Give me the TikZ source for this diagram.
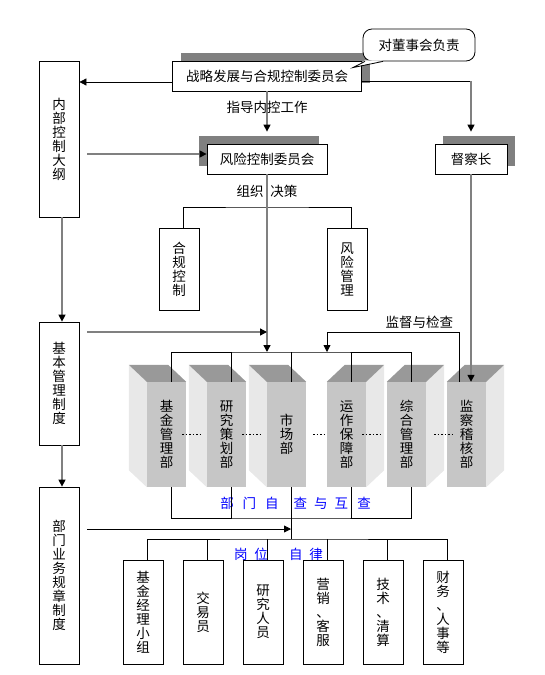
\documentclass[tikz,border=0pt]{standalone}
\usepackage{fontspec}
\setmainfont{Noto Sans CJK SC}
\usetikzlibrary{arrows.meta, calc, shadows}

\begin{document}
\begin{tikzpicture}[x=1pt, y=-1pt,
    every node/.style={font=\fontsize{13.5}{14}\selectfont},
    bx/.style={draw, line width=0.8pt, fill=white, inner sep=0pt, minimum height=30pt},
    vb/.style={draw, line width=0.8pt, fill=white, inner sep=0pt, minimum width=40pt, align=center},
    sh/.style={drop shadow={shadow xshift=#1, shadow yshift=8pt, fill=gray, opacity=1}},
    fr/.style={fill=gray!45, inner sep=0pt, minimum width=39pt, minimum height=105pt, align=center},
    topf/.style={fill=gray!80},
    sidef/.style={fill=gray!18},
    ln/.style={line width=0.8pt},
    a/.style={-{Triangle[length=7pt, width=7pt, color=black]}, line width=1.4pt, draw=gray},
    ab/.style={-{Triangle[length=7pt, width=7pt]}, line width=0.8pt},
    al/.style={inner sep=1pt},
    bl/.style={text=blue, inner sep=0pt},
    dt/.style={line width=1.5pt, dash pattern=on 1.5pt off 2pt}
]
\def\lface#1{\fill[sidef] (#1.north west) -- ++(-18,-17) -- ($(#1.south west)+(-18,-17)$) -- (#1.south west) -- cycle;
  \fill[topf] (#1.north west) -- ++(-18,-17) -- ($(#1.north east)+(-18,-17)$) -- (#1.north east) -- cycle;}
\def\rface#1{\fill[sidef] (#1.north east) -- ++(18,-17) -- ($(#1.south east)+(18,-17)$) -- (#1.south east) -- cycle;
  \fill[topf] (#1.north west) -- ++(18,-17) -- ($(#1.north east)+(18,-17)$) -- (#1.north east) -- cycle;}
\useasboundingbox (0,0) rectangle (544,675);

% committees
\node[bx, sh=8pt, minimum width=189pt] (top) at (267,76) {战略发展与合规控制委员会};
\node[bx, sh=-8pt, minimum width=120pt] (risk) at (267,159) {风险控制委员会};
\node[bx, sh=8pt, minimum width=72pt] (chief) at (471,159) {督察长};
\node[draw, line width=0.8pt, fill=white, rounded corners=9pt, inner sep=0pt,
  minimum width=112pt, minimum height=32pt] (note) at (419,45) {对董事会负责};
\coordinate (tip) at ($(top.north east)+(-9,7)$);
\fill[white] ($(note.south)+(-54,-1)$) -- (tip) -- ($(note.south)+(-36,-1)$) -- cycle;
\draw[ln] ($(note.south)+(-54,0)$) -- (tip) -- ($(note.south)+(-36,0)$);

% rule boxes on the left
\node[vb, minimum height=156pt] (outline) at (59,139) {内\\部\\控\\制\\大\\纲};
\node[vb, minimum height=123pt] (basic) at (59,383.5) {基\\本\\管\\理\\制\\度};
\node[vb, minimum height=177pt] (deptrule) at (59,575.5) {部\\门\\业\\务\\规\\章\\制\\度};
\node[vb, minimum height=82pt] (comply) at (179,269) {合\\规\\控\\制};
\node[vb, minimum height=82pt] (riskmgmt) at (347,269) {风\\险\\管\\理};

% departments
\node[fr] (d1) at (166.5,434.5) {基\\金\\管\\理\\部};
\node[fr] (d2) at (226.5,434.5) {研\\究\\策\\划\\部};
\node[fr] (d3) at (286.5,434.5) {市\\场\\部};
\node[fr] (d4) at (346.5,434.5) {运\\作\\保\\障\\部};
\node[fr] (d5) at (406.5,434.5) {综\\合\\管\\理\\部};
\node[fr] (d6) at (466.5,434.5) {监\\察\\稽\\核\\部};
\lface{d1} \lface{d2} \lface{d3} \rface{d4} \rface{d5} \rface{d6}
\draw[dt] ($(d1.east)+(-4,0)$) -- ($(d2.west)+(-4,0)$);
\draw[dt] ($(d2.east)+(-4,0)$) -- ($(d3.west)+(-4,0)$);
\draw[dt] ($(d3.east)+(7,0)$) -- ($(d4.west)+(-3,0)$);
\draw[dt] ($(d4.east)+(-4,0)$) -- ($(d5.west)+(-4,0)$);
\draw[dt] ($(d5.east)+(8,0)$) -- ($(d6.west)+(8,0)$);

% posts
\node[vb, minimum height=104pt] (p1) at (143,612) {基\\金\\经\\理\\小\\组};
\node[vb, minimum height=104pt] (p2) at (203,612) {交\\易\\员};
\node[vb, minimum height=104pt] (p3) at (263,612) {研\\究\\人\\员};
\node[vb, minimum height=104pt] (p4) at (323,612) {营\\销\\、\\客\\服};
\node[vb, minimum height=104pt] (p5) at (383,612) {技\\术\\、\\清\\算};
\node[vb, minimum height=104pt] (p6) at (443,612) {财\\务\\、\\人\\事\\等};

\node[bl] (selfchk) at (295.5,503) {部\hspace{9pt}门\hspace{9pt}自\hspace{15pt}查\hspace{7pt}与\hspace{7pt}互\hspace{9pt}查};
\node[bl] (postchk) at (278.5,554) {岗\hspace{7pt}位\hspace{21pt}自\hspace{7pt}律};

\coordinate (tl) at ($(top.west)+(0,6)$);
\coordinate (tr) at ($(top.east)+(0,5)$);
\coordinate (ol) at ($(risk.west)+(0,-5)$);
\coordinate (brk) at (267,207);
\coordinate (fbk) at (327,332);
\coordinate (bus) at (291,352);
\coordinate (sbus) at (291,518);
\coordinate (pbus) at (291,539);
\coordinate (ri) at (291,529);

\draw[ab] (tl) -- (tl -| outline.east);
\draw[ln] (tr) -- (tr -| chief.north);
\draw[a] (tr -| chief.north) -- ($(chief.north)+(0,-12)$);
\draw[a] (top.south) -- node[al,pos=0.4]{指导内控工作} ($(risk.north)+(0,-12)$);
\draw[a] ($(ol -| outline.east)+(8,0)$) -- (ol);
\draw[a] ([xshift=3pt]outline.south) -- ([xshift=3pt]basic.north);
\draw[a] ([xshift=3pt]basic.south) -- ([xshift=3pt]deptrule.north);
\draw[ln] ([xshift=4pt]comply.north) |- (brk) -| ([xshift=4pt]riskmgmt.north);
\draw[a] (risk.south) -- node[al,pos=0.096]{组织\hspace{7pt}决策} (risk.south |- bus);
\draw[a] (chief.south) -- ([xshift=4.5pt]d6.north);
\draw[a] ($(basic.east |- fbk)+(8,0)$) -- (risk.south |- fbk);
\draw[ab] ([xshift=-7.5pt]d6.north) |- node[al,above=2pt,pos=0.65]{监督与检查} (fbk) -- (fbk |- bus);

% top bus to departments
\draw[ln] ([xshift=4.5pt]d1.north) |- (bus) -| ([xshift=4.5pt]d5.north);
\draw[ln] ([xshift=4.5pt]d2.north) -- ++(0,-30);
\draw[ln] ([xshift=4.5pt]d3.north) -- ++(0,-30);
\draw[ln] ([xshift=4.5pt]d4.north) -- ++(0,-30);

% lower buses
\draw[ln] ([xshift=4.5pt]d1.south) |- (sbus) -| ([xshift=4.5pt]d5.south);
\draw[ln] ([xshift=4.5pt]d2.south) -- ++(0,31);
\draw[ln] ([xshift=4.5pt]d4.south) -- ++(0,31);
\draw[ln] ([xshift=4.5pt]d3.south) -- (pbus);
\draw[ab] ($(ri -| deptrule.east)+(8,0)$) -- (ri);
\draw[ln] ([xshift=4pt]p1.north) |- (pbus) -| ([xshift=4pt]p6.north);
\draw[ln] ([xshift=4pt]p2.north) -- ++(0,-21);
\draw[ln] ([xshift=4pt]p3.north) -- ++(0,-21);
\draw[ln] ([xshift=4pt]p4.north) -- ++(0,-21);
\draw[ln] ([xshift=4pt]p5.north) -- ++(0,-21);
\end{tikzpicture}
\end{document}
